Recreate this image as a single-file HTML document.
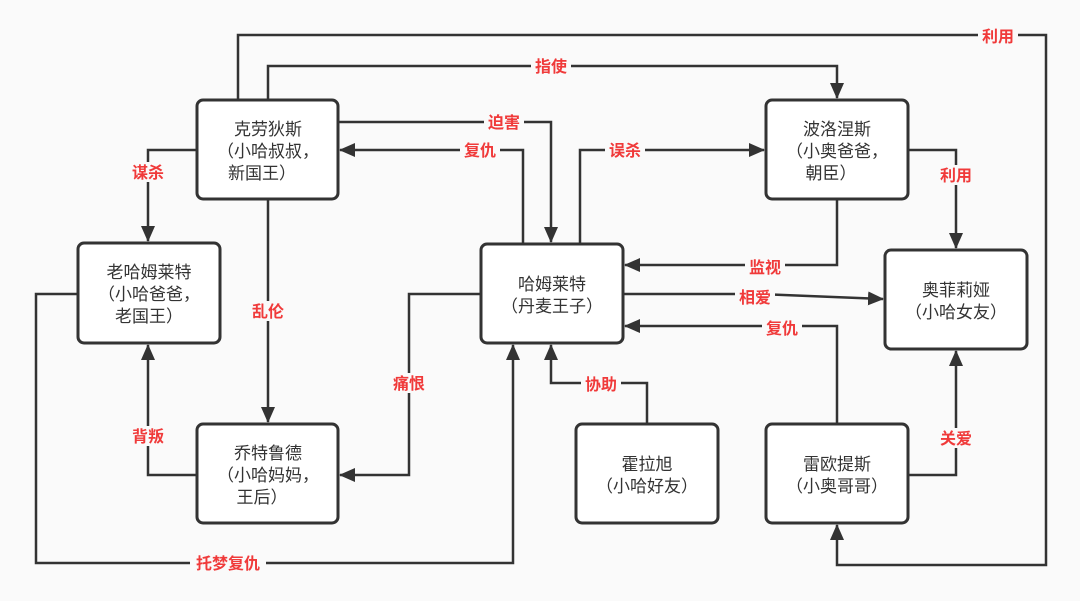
<!DOCTYPE html>
<html><head><meta charset="utf-8"><style>
html,body{margin:0;padding:0;background:#fafafa;}
svg{display:block;}
.b{fill:#fff;stroke:#333;stroke-width:3;}
.l{fill:none;stroke:#333;stroke-width:2.5;}
.t{font-family:"Liberation Sans","Noto Sans CJK SC",sans-serif;font-size:17px;fill:#333;text-anchor:middle;}
.r{font-family:"Liberation Sans","Noto Sans CJK SC",sans-serif;font-size:16px;font-weight:bold;fill:#f03a3a;text-anchor:middle;}
.bg{fill:#fafafa;}
</style></head><body>
<svg width="1080" height="601" viewBox="0 0 1080 601" xmlns="http://www.w3.org/2000/svg">
<defs><marker id="a" markerWidth="10" markerHeight="10" refX="9" refY="5" orient="auto" markerUnits="userSpaceOnUse"><path d="M0,0 L10,5 L0,10 Z" fill="#333"/></marker>
<marker id="A" markerWidth="16" markerHeight="14" refX="15" refY="7" orient="auto" markerUnits="userSpaceOnUse"><path d="M0,0 L16,7 L0,14 Z" fill="#333"/></marker></defs>
<g class="l">
<path d="M238,100 V35 H1046 V565 H837 V525" marker-end="url(#A)"/>
<path d="M268,100 V66 H837 V98" marker-end="url(#A)"/>
<path d="M338,122 H551 V242" marker-end="url(#A)"/>
<path d="M523,244 V150 H340" marker-end="url(#A)"/>
<path d="M580,244 V150 H764" marker-end="url(#A)"/>
<path d="M197,150 H148 V241" marker-end="url(#A)"/>
<path d="M268,199 V422" marker-end="url(#A)"/>
<path d="M908,150 H956 V248" marker-end="url(#A)"/>
<path d="M837,199 V265 H625" marker-end="url(#A)"/>
<path d="M623,294 H760 L883,299" marker-end="url(#A)"/>
<path d="M837,424 V326 H625" marker-end="url(#A)"/>
<path d="M481,294 H409 V475 H340" marker-end="url(#A)"/>
<path d="M647,424 V383 H551 V345" marker-end="url(#A)"/>
<path d="M908,475 H956 V351" marker-end="url(#A)"/>
<path d="M197,475 H148 V345" marker-end="url(#A)"/>
<path d="M78,294 H36 V563 H513 V345" marker-end="url(#A)"/>
</g>
<rect class="b" x="197" y="100" width="141" height="99" rx="6"/>
<rect class="b" x="78" y="243" width="142" height="100" rx="6"/>
<rect class="b" x="197" y="424" width="141" height="99" rx="6"/>
<rect class="b" x="481" y="244" width="142" height="99" rx="6"/>
<rect class="b" x="766" y="100" width="142" height="99" rx="6"/>
<rect class="b" x="885" y="250" width="142" height="99" rx="6"/>
<rect class="b" x="576" y="424" width="142" height="99" rx="6"/>
<rect class="b" x="766" y="424" width="142" height="99" rx="6"/>
<text class="t" x="268" y="135">克劳狄斯</text><text class="t" x="268" y="157">（小哈叔叔，</text><text class="t" x="262" y="179">新国王）</text>
<text class="t" x="149" y="278">老哈姆莱特</text><text class="t" x="149" y="300">（小哈爸爸，</text><text class="t" x="149" y="322">老国王）</text>
<text class="t" x="268" y="459">乔特鲁德</text><text class="t" x="268" y="481">（小哈妈妈，</text><text class="t" x="262" y="503">王后）</text>
<text class="t" x="552" y="290">哈姆莱特</text><text class="t" x="552" y="312">（丹麦王子）</text>
<text class="t" x="837" y="135">波洛涅斯</text><text class="t" x="837" y="157">（小奥爸爸，</text><text class="t" x="831" y="179">朝臣）</text>
<text class="t" x="956" y="296">奥菲莉娅</text><text class="t" x="956" y="318">（小哈女友）</text>
<text class="t" x="647" y="470">霍拉旭</text><text class="t" x="647" y="492">（小哈好友）</text>
<text class="t" x="837" y="470">雷欧提斯</text><text class="t" x="837" y="492">（小奥哥哥）</text>
<g>
<rect class="bg" x="978" y="26" width="40" height="20"/><text class="r" x="998" y="42">利用</text>
<rect class="bg" x="531" y="56" width="40" height="20"/><text class="r" x="551" y="72">指使</text>
<rect class="bg" x="484" y="112" width="40" height="20"/><text class="r" x="504" y="128">迫害</text>
<rect class="bg" x="460" y="140" width="40" height="20"/><text class="r" x="480" y="156">复仇</text>
<rect class="bg" x="605" y="140" width="40" height="20"/><text class="r" x="625" y="156">误杀</text>
<rect class="bg" x="128" y="162" width="40" height="20"/><text class="r" x="148" y="178">谋杀</text>
<rect class="bg" x="248" y="301" width="40" height="20"/><text class="r" x="268" y="317">乱伦</text>
<rect class="bg" x="936" y="165" width="40" height="20"/><text class="r" x="956" y="181">利用</text>
<rect class="bg" x="745" y="257" width="40" height="20"/><text class="r" x="765" y="273">监视</text>
<rect class="bg" x="735" y="287" width="40" height="20"/><text class="r" x="755" y="303">相爱</text>
<rect class="bg" x="762" y="318" width="40" height="20"/><text class="r" x="782" y="334">复仇</text>
<rect class="bg" x="389" y="373" width="40" height="20"/><text class="r" x="409" y="389">痛恨</text>
<rect class="bg" x="581" y="374" width="40" height="20"/><text class="r" x="601" y="390">协助</text>
<rect class="bg" x="936" y="428" width="40" height="20"/><text class="r" x="956" y="444">关爱</text>
<rect class="bg" x="128" y="426" width="40" height="20"/><text class="r" x="148" y="442">背叛</text>
<rect class="bg" x="190" y="553" width="76" height="20"/><text class="r" x="228" y="569">托梦复仇</text>
</g>
</svg>
</body></html>
